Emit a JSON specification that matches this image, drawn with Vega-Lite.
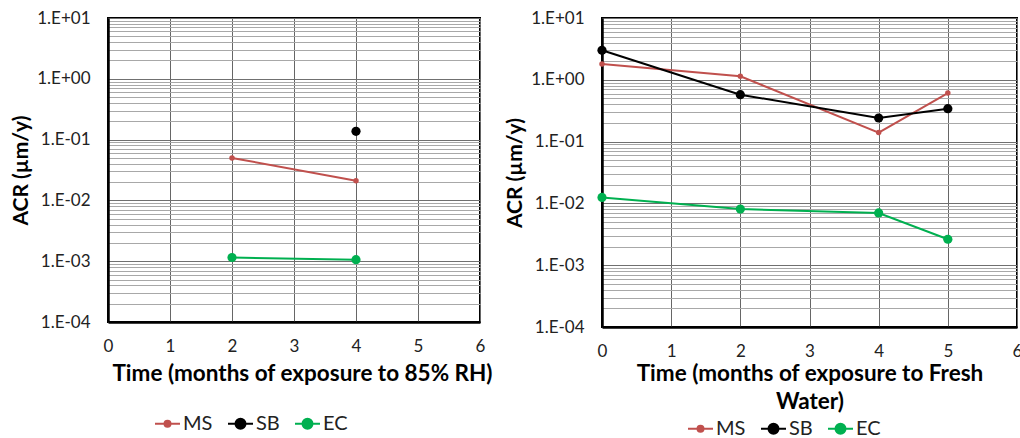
{
  "$schema": "https://vega.github.io/schema/vega-lite/v6.json",
  "padding": {"left": 9, "top": 8, "right": 0, "bottom": 0},
  "spacing": 9,
  "background": "white",
  "datasets": {
    "rh": [
      {"t": 2, "acr": 0.05, "series": "MS"},
      {"t": 4, "acr": 0.021, "series": "MS"},
      {"t": 4, "acr": 0.137, "series": "SB"},
      {"t": 2, "acr": 0.00115, "series": "EC"},
      {"t": 4, "acr": 0.00106, "series": "EC"}
    ],
    "fw": [
      {"t": 0, "acr": 1.8, "series": "MS"},
      {"t": 2, "acr": 1.14, "series": "MS"},
      {"t": 4, "acr": 0.14, "series": "MS"},
      {"t": 5, "acr": 0.61, "series": "MS"},
      {"t": 0, "acr": 3.0, "series": "SB"},
      {"t": 2, "acr": 0.574, "series": "SB"},
      {"t": 4, "acr": 0.241, "series": "SB"},
      {"t": 5, "acr": 0.341, "series": "SB"},
      {"t": 0, "acr": 0.0125, "series": "EC"},
      {"t": 2, "acr": 0.0081, "series": "EC"},
      {"t": 4, "acr": 0.007, "series": "EC"},
      {"t": 5, "acr": 0.00263, "series": "EC"}
    ]
  },
  "config": {
    "view": {"stroke": "#000", "strokeWidth": 2},
    "axis": {
      "labelFont": "Lato", "labelFontSize": 17, "labelColor": "#222",
      "titleFont": "Lato", "titleFontSize": 21, "titleFontWeight": "bold", "titleColor": "#000",
      "ticks": false, "domainColor": "#000", "domainWidth": 2.5,
      "labelOverlap": false, "labelFlush": false
    },
    "legend": {"labelFont": "Lato", "labelFontSize": 20, "labelColor": "#222"}
  },
  "resolve": {"scale": {"color": "independent"}, "legend": {"color": "independent"}},
  "hconcat": [
    {
      "width": 372, "height": 304,
      "data": {"name": "rh"},
      "encoding": {
        "x": {"field": "t", "type": "quantitative", "scale": {"domain": [0, 6], "nice": false, "zero": false},
          "axis": {"values": [0, 1, 2, 3, 4, 5, 6], "title": "Time (months of exposure to 85% RH)", "titleFontSize": 22.5, "labelPadding": 16, "titlePadding": 8, "titleX": 194, "gridColor": "#666", "gridWidth": 1, "gridOpacity": 1}},
        "y": {"field": "acr", "type": "quantitative", "scale": {"type": "log", "domain": [0.0001, 10], "nice": false},
          "axis": {
            "title": "ACR  (µm/y)", "labelPadding": 18, "titlePadding": 5,
            "values": [0.0001,0.0002,0.0003,0.0004,0.0005,0.0006,0.0007,0.0008,0.0009,0.001,0.002,0.003,0.004,0.005,0.006,0.007,0.008,0.009,0.01,0.02,0.03,0.04,0.05,0.06,0.07,0.08,0.09,0.1,0.2,0.3,0.4,0.5,0.6,0.7,0.8,0.9,1,2,3,4,5,6,7,8,9,10],
            "labelExpr": "abs(log(datum.value)/LN10 - round(log(datum.value)/LN10)) < 0.000001 ? '1.E' + (round(log(datum.value)/LN10) >= 0 ? '+0' : '-0') + abs(round(log(datum.value)/LN10)) : ''",
            "gridColor": {"condition": {"test": "abs(log(datum.value)/LN10 - round(log(datum.value)/LN10)) < 0.000001", "value": "#707070"}, "value": "#a8a8a8"},
            "gridWidth": 1, "gridOpacity": 1
          }},
        "color": {"field": "series", "type": "nominal",
          "scale": {"domain": ["MS", "SB", "EC"], "range": ["#C0504D", "#000000", "#00B050"]},
          "legend": {"orient": "none", "legendX": 46, "legendY": 392, "direction": "horizontal", "title": null, "padding": 0,
            "symbolSize": 625, "columnPadding": 11, "labelOffset": 2, "symbolStrokeWidth": 2,
            "encode": {"symbols": {"update": {
              "shape": {"signal": "datum.value === 'MS' ? 'M-1,0L1,0M0.24,0A0.24,0.24 0 1 1 -0.24,0A0.24,0.24 0 1 1 0.24,0Z' : 'M-1,0L1,0M0.4,0A0.4,0.4 0 1 1 -0.4,0A0.4,0.4 0 1 1 0.4,0Z'"},
              "fill": {"signal": "datum.value === 'MS' ? '#C0504D' : datum.value === 'SB' ? '#000000' : '#00B050'"},
              "stroke": {"signal": "datum.value === 'MS' ? '#C0504D' : datum.value === 'SB' ? '#000000' : '#00B050'"},
              "strokeWidth": {"value": 2}, "size": {"value": 625}, "opacity": {"value": 1}}}}}}
      },
      "layer": [
        {"mark": {"type": "line", "strokeWidth": 2}},
        {"mark": {"type": "point", "filled": true, "opacity": 1}, "encoding": {"size": {"condition": {"test": "datum.series === 'MS'", "value": 30}, "value": 85}}}
      ]
    },
    {
      "width": 415, "height": 309,
      "data": {"name": "fw"},
      "encoding": {
        "x": {"field": "t", "type": "quantitative", "scale": {"domain": [0, 6], "nice": false, "zero": false},
          "axis": {"values": [0, 1, 2, 3, 4, 5, 6], "title": ["Time (months of exposure to Fresh", "Water)"], "titleFontSize": 22.5, "titleLineHeight": 28, "labelPadding": 16, "titlePadding": 3, "gridColor": "#666", "gridWidth": 1, "gridOpacity": 1}},
        "y": {"field": "acr", "type": "quantitative", "scale": {"type": "log", "domain": [0.0001, 10], "nice": false},
          "axis": {
            "title": "ACR  (µm/y)", "labelPadding": 18, "titlePadding": 5,
            "values": [0.0001,0.0002,0.0003,0.0004,0.0005,0.0006,0.0007,0.0008,0.0009,0.001,0.002,0.003,0.004,0.005,0.006,0.007,0.008,0.009,0.01,0.02,0.03,0.04,0.05,0.06,0.07,0.08,0.09,0.1,0.2,0.3,0.4,0.5,0.6,0.7,0.8,0.9,1,2,3,4,5,6,7,8,9,10],
            "labelExpr": "abs(log(datum.value)/LN10 - round(log(datum.value)/LN10)) < 0.000001 ? '1.E' + (round(log(datum.value)/LN10) >= 0 ? '+0' : '-0') + abs(round(log(datum.value)/LN10)) : ''",
            "gridColor": {"condition": {"test": "abs(log(datum.value)/LN10 - round(log(datum.value)/LN10)) < 0.000001", "value": "#707070"}, "value": "#a8a8a8"},
            "gridWidth": 1, "gridOpacity": 1
          }},
        "color": {"field": "series", "type": "nominal",
          "scale": {"domain": ["MS", "SB", "EC"], "range": ["#C0504D", "#000000", "#00B050"]},
          "legend": {"orient": "none", "legendX": 85, "legendY": 397, "direction": "horizontal", "title": null, "padding": 0,
            "symbolSize": 625, "columnPadding": 11, "labelOffset": 2, "symbolStrokeWidth": 2,
            "encode": {"symbols": {"update": {
              "shape": {"signal": "datum.value === 'MS' ? 'M-1,0L1,0M0.24,0A0.24,0.24 0 1 1 -0.24,0A0.24,0.24 0 1 1 0.24,0Z' : 'M-1,0L1,0M0.4,0A0.4,0.4 0 1 1 -0.4,0A0.4,0.4 0 1 1 0.4,0Z'"},
              "fill": {"signal": "datum.value === 'MS' ? '#C0504D' : datum.value === 'SB' ? '#000000' : '#00B050'"},
              "stroke": {"signal": "datum.value === 'MS' ? '#C0504D' : datum.value === 'SB' ? '#000000' : '#00B050'"},
              "strokeWidth": {"value": 2}, "size": {"value": 625}, "opacity": {"value": 1}}}}}}
      },
      "layer": [
        {"mark": {"type": "line", "strokeWidth": 2}},
        {"mark": {"type": "point", "filled": true, "opacity": 1}, "encoding": {"size": {"condition": {"test": "datum.series === 'MS'", "value": 30}, "value": 85}}}
      ]
    }
  ]
}
